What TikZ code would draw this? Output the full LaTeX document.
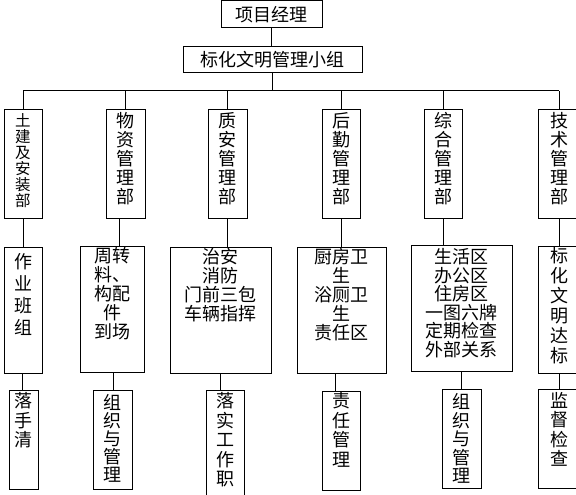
\documentclass[tikz,border=0pt]{standalone}
\usepackage{fontspec}
\setmainfont{Noto Sans CJK SC}
% column box: width, height, line skip, top pad, text
\newcommand{\deptbox}[5]{\parbox[t][#2][t]{#1}{\centering\fontsize{18}{#3}\selectfont
  \lineskiplimit=-20pt\lineskip=0pt\vspace*{#4}#5}}
\tikzset{
  head/.style={draw, line width=1pt, anchor=north, inner sep=0pt,
    font=\fontsize{18}{19}\selectfont},
  col/.style={draw, line width=1pt, anchor=north, inner sep=0pt},
  link/.style={line width=1pt}
}

\begin{document}
\begin{tikzpicture}[x=1pt, y=-1pt]
  \useasboundingbox (0,0) rectangle (576,495);
  \clip (0,0) rectangle (576,495);

  \node[head, minimum width=101pt, minimum height=26.5pt] (pm) at (271.5,0.5) {项目经理};
  \node[head, minimum width=179pt, minimum height=26pt] (grp) at (272.5,46) {标化文明管理小组};

  % departments
  \node[col] (m1) at (23,109)    {\deptbox{38pt}{109pt}{16pt}{4pt}{\fontsize{15.5}{16}\selectfont 土\\建\\及\\安\\装\\部}};
  \node[col] (m2) at (125.5,109) {\deptbox{39pt}{109pt}{19pt}{3pt}{物\\资\\管\\理\\部}};
  \node[col] (m3) at (227.5,109) {\deptbox{39pt}{109pt}{19pt}{3pt}{质\\安\\管\\理\\部}};
  \node[col] (m4) at (341,109)   {\deptbox{38pt}{109pt}{19pt}{3pt}{后\\勤\\管\\理\\部}};
  \node[col] (m5) at (443,109)   {\deptbox{38pt}{109pt}{19pt}{3pt}{综\\合\\管\\理\\部}};
  \node[col] (m6) at (559,109)   {\deptbox{42pt}{109pt}{19pt}{3pt}{技\\术\\管\\理\\部}};

  % work items
  \node[col] (w1) at (23,247)    {\deptbox{38pt}{126pt}{22pt}{6pt}{作\\业\\班\\组}};
  \node[col] (w2) at (112,246)   {\deptbox{64pt}{126pt}{19pt}{1pt}{周转\\料、\\构配\\件\\到场}};
  \node[col] (w3) at (220.5,247) {\deptbox{101pt}{126pt}{19pt}{1pt}{治安\\消防\\门前三包\\车辆指挥}};
  \node[col] (w4) at (341.5,247) {\deptbox{89pt}{126pt}{19pt}{1pt}{厨房卫\\生\\浴厕卫\\生\\责任区}};
  \node[col] (w5) at (461.5,245) {\deptbox{101pt}{126pt}{18.5pt}{3pt}{生活区\\办公区\\住房区\\一图六牌\\定期检查\\外部关系}};
  \node[col] (w6) at (559,246)   {\deptbox{42pt}{127pt}{20pt}{1pt}{标\\化\\文\\明\\达\\标}};

  % duties
  \node[col] (r1) at (23.5,390)  {\deptbox{29pt}{99pt}{19.5pt}{2pt}{落\\手\\清}};
  \node[col] (r2) at (112.5,390) {\deptbox{39pt}{99pt}{18pt}{4pt}{组\\织\\与\\管\\理}};
  \node[col] (r3) at (225,390)   {\deptbox{38pt}{115pt}{19.5pt}{2pt}{落\\实\\工\\作\\职}};
  \node[col] (r4) at (341,391)   {\deptbox{38pt}{99pt}{19.5pt}{1pt}{责\\任\\管\\理}};
  \node[col] (r5) at (461.5,389) {\deptbox{39pt}{99pt}{18.5pt}{4pt}{组\\织\\与\\管\\理}};
  \node[col] (r6) at (559,389)   {\deptbox{42pt}{99pt}{19.3pt}{3pt}{监\\督\\检\\查}};

  \draw[link] (pm.south) -- (pm.south |- grp.north);
  \draw[link] (grp.south) -- ++(0,18) coordinate (bus);
  \draw[link] (bus -| m1.north) -- (bus -| m6.north);
  \foreach \n in {m1,m2,m3,m4,m5,m6}
    \draw[link] (bus -| \n.north) -- (\n.north);

  \foreach \a/\b/\s in {m1/w1/0, m2/w2/-6.5, m3/w3/0, m4/w4/0, m5/w5/0, m6/w6/0}
    \draw[link] ([xshift=\s pt]\a.south) -- ([xshift=\s pt]\a.south |- \b.north);
  \foreach \a/\b/\s in {w1/r1/-1, w2/r2/1, w3/r3/0, w4/r4/-6.5, w5/r5/0, w6/r6/0}
    \draw[link] ([xshift=\s pt]\a.south) -- ([xshift=\s pt]\a.south |- \b.north);
\end{tikzpicture}
\end{document}
